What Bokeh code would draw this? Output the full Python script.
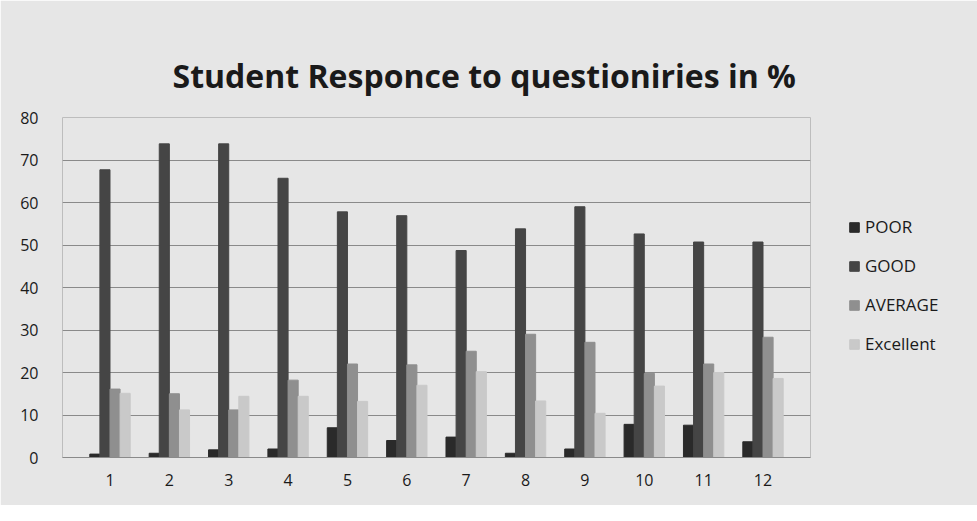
from bokeh.plotting import figure
from bokeh.models import ColumnDataSource, FactorRange, Legend, LegendItem
from bokeh.transform import dodge
from bokeh.embed import file_html
from bokeh.resources import INLINE

questions = [str(i) for i in range(1, 13)]
poor = [0.8, 1.0, 1.8, 2.0, 7.0, 4.0, 4.8, 1.0, 2.0, 7.8, 7.6, 3.7]
good = [67.7, 73.8, 73.8, 65.7, 57.8, 56.9, 48.7, 53.8, 59.0, 52.6, 50.7, 50.7]
average = [16.1, 15.0, 11.2, 18.2, 22.0, 21.8, 25.0, 29.0, 27.1, 19.8, 22.0, 28.3]
excellent = [15.1, 11.2, 14.4, 14.4, 13.2, 17.0, 20.2, 13.3, 10.4, 16.8, 20.0, 18.6]
series_names = ["POOR", "GOOD", "AVERAGE", "Excellent"]
y_ticks = [0, 10, 20, 30, 40, 50, 60, 70, 80]

src = ColumnDataSource(dict(q=questions, POOR=poor, GOOD=good, AVERAGE=average, Excellent=excellent))

bg = "#e6e6e6"
p = figure(x_range=FactorRange(*questions), y_range=(0, 80),
           frame_width=748, frame_height=340,
           output_backend="svg", toolbar_location=None,
           title="Student Responce to questioniries in %")
p.title.align = "left"
p.title.offset = 110
p.title.text_font = "Open Sans"
p.title.text_font_size = "32px"
p.title.text_font_style = "bold"
p.title.text_color = "#1a1a1a"
p.title.standoff = 42
p.background_fill_color = bg
p.border_fill_color = bg
p.outline_line_color = "#bdbdbd"
p.min_border_left = 62
p.min_border_top = 117
p.min_border_bottom = 48
p.min_border_right = 0

colors = ["#2a2a2a", "#454545", "#8f8f8f", "#c9c9c9"]
offsets = [-0.255, -0.085, 0.085, 0.255]
renderers = []
for name, c, off in zip(series_names, colors, offsets):
    r = p.vbar(x=dodge("q", off, range=p.x_range), top=name, width=0.17, source=src,
               fill_color=c, line_color=c)
    renderers.append(r)

legend = Legend(items=[LegendItem(label=n, renderers=[r]) for n, r in zip(series_names, renderers)],
                location=(34, 98), spacing=16, label_text_font="Open Sans",
                label_text_font_size="17px", label_text_color="#1a1a1a",
                background_fill_alpha=0, border_line_alpha=0,
                glyph_width=12, glyph_height=12, margin=0, padding=4)
p.add_layout(legend, "right")

p.yaxis.ticker = y_ticks
p.ygrid.grid_line_color = "#8a8a8a"
p.ygrid.grid_line_width = 1
p.xgrid.grid_line_color = None
p.yaxis.axis_line_color = None
p.yaxis.major_tick_line_color = None
p.yaxis.minor_tick_line_color = None
p.xaxis.axis_line_color = "#8a8a8a"
p.xaxis.major_tick_line_color = None
p.xaxis.minor_tick_line_color = None
for ax in (p.xaxis, p.yaxis):
    ax.major_label_text_font = "Open Sans"
    ax.major_label_text_font_size = "16px"
    ax.major_label_text_color = "#1a1a1a"
p.yaxis.major_label_standoff = 18
p.xaxis.major_label_standoff = 10
p.x_range.range_padding = 0.05

open("out.html", "w").write(file_html(p, INLINE))
